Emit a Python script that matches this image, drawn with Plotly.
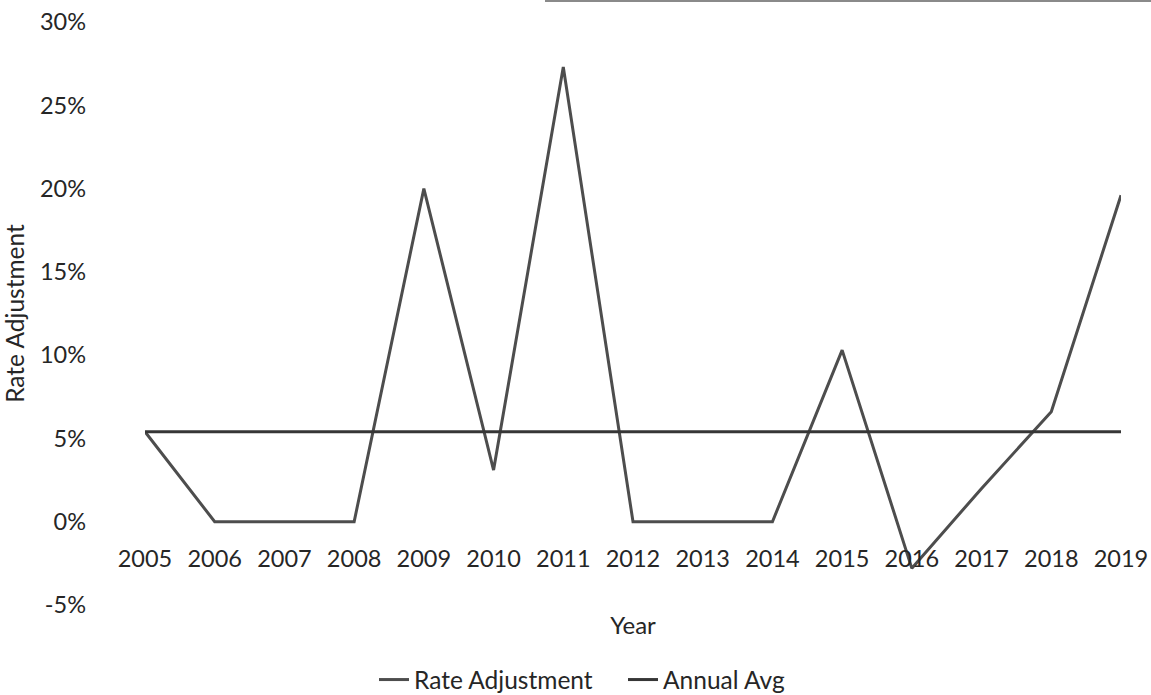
import plotly.graph_objects as go

years = [2005, 2006, 2007, 2008, 2009, 2010, 2011, 2012, 2013, 2014, 2015, 2016, 2017, 2018, 2019]
rate_adjustment = [5.4, 0.0, 0.0, 0.0, 20.0, 3.1, 27.3, 0.0, 0.0, 0.0, 10.3, -2.8, 2.0, 6.6, 19.6]
annual_avg = [5.4] * len(years)
y_ticks = [-5, 0, 5, 10, 15, 20, 25, 30]
y_tick_labels = ["-5%", "0%", "5%", "10%", "15%", "20%", "25%", "30%"]

FONT = "Lato, 'Open Sans', sans-serif"
TXT = "#262626"

fig = go.Figure()
fig.add_trace(go.Scatter(x=years, y=rate_adjustment, mode="lines", name="Rate Adjustment",
                         line=dict(color="#4d4d4d", width=3), cliponaxis=False))
fig.add_trace(go.Scatter(x=years, y=annual_avg, mode="lines", name="Annual Avg",
                         line=dict(color="#363636", width=3), cliponaxis=False))

# faint scan border at the top edge
fig.add_shape(type="line", xref="paper", yref="paper", x0=(545 - 145) / 976, x1=1.04,
              y0=1 + 21 / 583, y1=1 + 21 / 583, line=dict(color="#8a8a8a", width=2))

fig.update_layout(
    width=1151, height=695,
    margin=dict(l=145, r=30, t=22, b=90, autoexpand=False),
    paper_bgcolor="white", plot_bgcolor="white",
    font=dict(family=FONT, size=23.5, color=TXT),
    showlegend=True,
    legend=dict(orientation="h", x=(374 - 145) / 976, xanchor="left", y=-0.128, yanchor="middle",
                font=dict(size=24.5, color=TXT), itemwidth=30, entrywidth=204),
    xaxis=dict(range=[2005, 2019], tickmode="array", tickvals=years,
               ticktext=[str(y) for y in years], automargin=False,
               showgrid=False, zeroline=False, showline=False, ticks="",
               anchor="free", position=5 / 35, ticklabelstandoff=21,
               title=dict(text="Year", standoff=45, font=dict(size=24, color=TXT))),
    yaxis=dict(range=[-5, 30], tickmode="array", tickvals=y_ticks, ticktext=y_tick_labels,
               showgrid=False, zeroline=False, showline=False, ticks="",
               ticklabelstandoff=58, automargin=False,
               title=dict(text="Rate Adjustment", standoff=8, font=dict(size=24.5, color=TXT))),
)

fig.write_html("out.html", config={"displayModeBar": False},
               post_script="document.body.style.margin='0';document.body.style.padding='0';")
